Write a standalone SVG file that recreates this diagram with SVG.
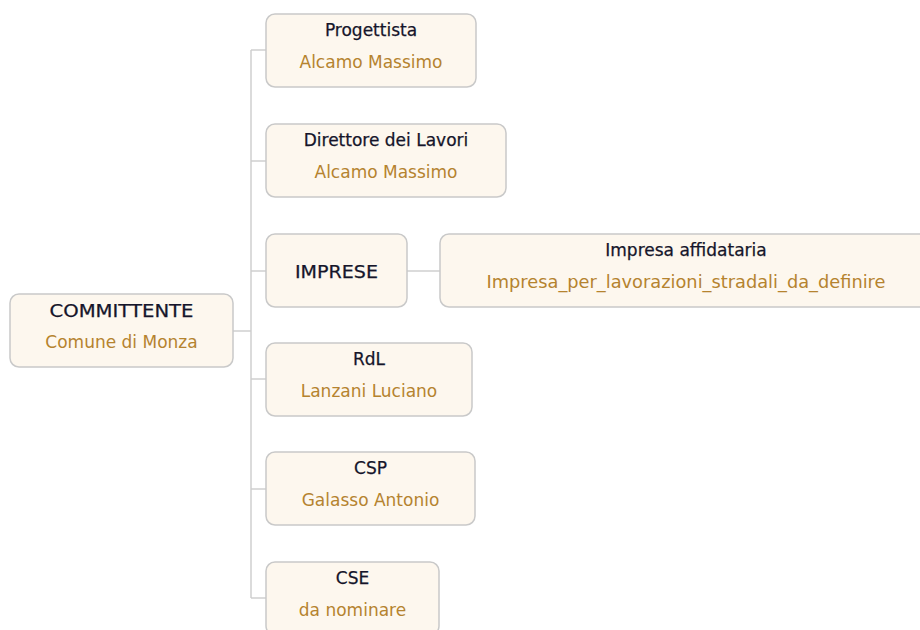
<svg xmlns="http://www.w3.org/2000/svg" width="920" height="630" viewBox="0 0 920 630">
<style>
.box{fill:#fdf7ee;stroke:#c9c9c9;stroke-width:1.5}
.t{font-family:"DejaVu Sans",Verdana,sans-serif;font-size:17px;fill:#15152a;text-anchor:middle;stroke:#15152a;stroke-width:0.25}
.s{font-family:"DejaVu Sans",Verdana,sans-serif;font-size:17px;fill:#b5832f;text-anchor:middle}
.c{stroke:#cfcfcf;stroke-width:1.5;fill:none}
</style>
<rect width="920" height="630" fill="#fff"/>
<g id="connectors">
<path class="c" d="M233 331H251M251 50V598M251 50H266M251 161H266M251 271H266M251 379H266M251 489H266M251 598H266M407 271H440"/>
</g>
<g id="committente">
<rect class="box" x="10" y="294" width="223" height="73" rx="9"/>
<text class="t" x="121.5" y="317" textLength="144" lengthAdjust="spacingAndGlyphs">COMMITTENTE</text>
<text class="s" x="121.5" y="348">Comune di Monza</text>
</g>
<g id="progettista">
<rect class="box" x="266" y="14" width="210" height="73" rx="9"/>
<text class="t" x="371" y="36">Progettista</text>
<text class="s" x="371" y="68">Alcamo Massimo</text>
</g>
<g id="direttore">
<rect class="box" x="266" y="124" width="240" height="73" rx="9"/>
<text class="t" x="386" y="146">Direttore dei Lavori</text>
<text class="s" x="386" y="178">Alcamo Massimo</text>
</g>
<g id="imprese">
<rect class="box" x="266" y="234" width="141" height="73" rx="9"/>
<text class="t" x="336.5" y="278" textLength="83" lengthAdjust="spacingAndGlyphs">IMPRESE</text>
</g>
<g id="impresa-affidataria">
<rect class="box" x="440" y="234" width="490" height="73" rx="9"/>
<text class="t" x="686" y="256">Impresa affidataria</text>
<text class="s" x="686" y="288" textLength="399" lengthAdjust="spacingAndGlyphs">Impresa_per_lavorazioni_stradali_da_definire</text>
</g>
<g id="rdl">
<rect class="box" x="266" y="343" width="206" height="73" rx="9"/>
<text class="t" x="369" y="365">RdL</text>
<text class="s" x="369" y="397">Lanzani Luciano</text>
</g>
<g id="csp">
<rect class="box" x="266" y="452" width="209" height="73" rx="9"/>
<text class="t" x="370.5" y="474">CSP</text>
<text class="s" x="370.5" y="506">Galasso Antonio</text>
</g>
<g id="cse">
<rect class="box" x="266" y="562" width="173" height="73" rx="9"/>
<text class="t" x="352.5" y="584">CSE</text>
<text class="s" x="352.5" y="616">da nominare</text>
</g>
</svg>
